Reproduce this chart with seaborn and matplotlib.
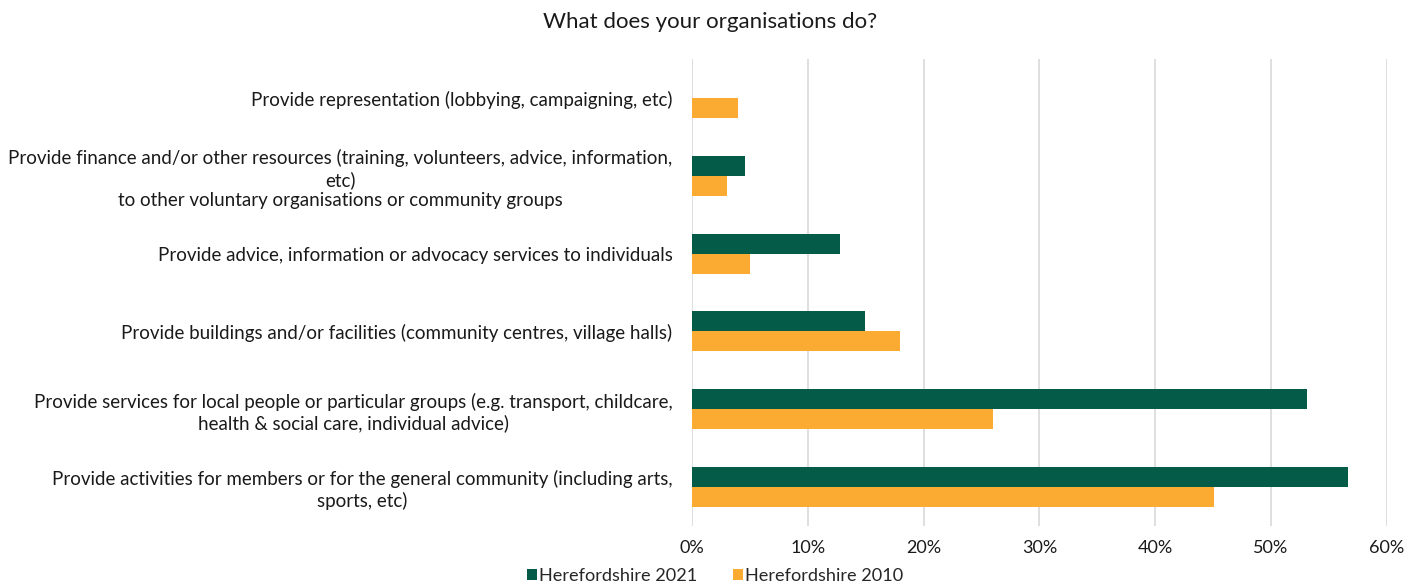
import matplotlib
matplotlib.use("Agg")
import matplotlib.pyplot as plt
import seaborn as sns
import pandas as pd
from matplotlib.ticker import FuncFormatter

# Survey categories (top to bottom) and share of organisations (%)
categories = [
    "Provide representation (lobbying, campaigning, etc)",
    "Provide finance and/or other resources (training, volunteers, advice, information,\netc)\nto other voluntary organisations or community groups",
    "Provide advice, information or advocacy services to individuals",
    "Provide buildings and/or facilities (community centres, village halls)",
    "Provide services for local people or particular groups (e.g. transport, childcare,\nhealth & social care, individual advice)",
    "Provide activities for members or for the general community (including arts,\nsports, etc)",
]
values_2021 = [0.0, 4.6, 12.8, 14.9, 53.1, 56.7]
values_2010 = [4.0, 3.0, 5.0, 18.0, 26.0, 45.1]
series_names = ["Herefordshire 2021", "Herefordshire 2010"]
x_ticks = [0, 10, 20, 30, 40, 50, 60]

df = pd.DataFrame({
    "category": categories * 2,
    "share": values_2021 + values_2010,
    "series": [series_names[0]] * len(categories) + [series_names[1]] * len(categories),
})

sns.set_theme(style="white")
plt.rcParams["font.family"] = ["Lato", "DejaVu Sans"]

fig = plt.figure(figsize=(14.08, 5.86), dpi=100)
ax = fig.add_axes([692 / 1408, 1 - 525.7 / 586, (1386.7 - 692) / 1408, (525.7 - 59.2) / 586])

palette = {series_names[0]: "#035B48", series_names[1]: "#FBAB31"}
sns.barplot(data=df, y="category", x="share", hue="series", hue_order=series_names,
            order=categories, palette=palette, orient="h", width=0.515,
            linewidth=0, saturation=1, ax=ax)

ax.set_xlim(0, 60)
ax.set_ylim(5.5, -0.5)
ax.set_xticks(x_ticks)
ax.xaxis.set_major_formatter(FuncFormatter(lambda v, p: f"{v:.0f}%"))
ax.grid(axis="x", color="#D9D9D9", linewidth=1.2)
ax.set_axisbelow(True)
for s in ax.spines.values():
    s.set_visible(False)
ax.set_xlabel("")
ax.set_ylabel("")
ax.tick_params(axis="x", length=0, labelsize=13, colors="#1a1a1a", pad=10)
ax.tick_params(axis="y", length=0, labelsize=13.5, colors="#1a1a1a", pad=14)
for lbl in ax.get_yticklabels():
    lbl.set_multialignment("center")
    lbl.set_linespacing(1.25)

handles, labels = ax.get_legend_handles_labels()
ax.get_legend().remove()
fig.legend(handles, labels, loc="center", bbox_to_anchor=(715 / 1408, 1 - 576 / 586),
           ncol=2, frameon=False, fontsize=13.1, handlelength=0.55, handleheight=0.55,
           handletextpad=0.1, columnspacing=2.0)

fig.text(710 / 1408, 1 - 22 / 586, "What does your organisations do?", ha="center",
         va="center", fontsize=16, color="#1a1a1a")

fig.savefig("out.png", dpi=100)
